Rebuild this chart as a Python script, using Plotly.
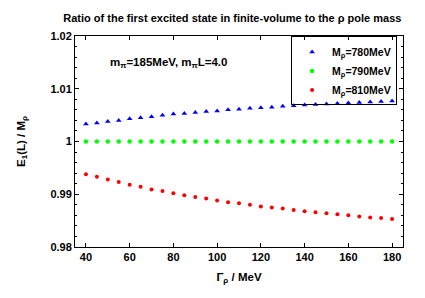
import plotly.graph_objects as go

gamma = [40, 45, 50, 55, 60, 65, 70, 75, 80, 85, 90, 95, 100, 105, 110, 115, 120,
         125, 130, 135, 140, 145, 150, 155, 160, 165, 170, 175, 180]
ratio_780 = [1.0033, 1.0035, 1.0038, 1.0040, 1.0043, 1.0045, 1.0047, 1.0050, 1.0052,
             1.0053, 1.0055, 1.0057, 1.0058, 1.0060, 1.0061, 1.0063, 1.0064, 1.0065,
             1.0067, 1.0068, 1.0069, 1.0070, 1.0071, 1.0072, 1.0073, 1.0074, 1.0075,
             1.0076, 1.0077]
ratio_790 = [1.0000] * 29
ratio_810 = [0.9938, 0.9933, 0.9928, 0.9923, 0.9918, 0.9914, 0.9909, 0.9906, 0.9902,
             0.9898, 0.9895, 0.9892, 0.9888, 0.9885, 0.9883, 0.9880, 0.9877, 0.9875,
             0.9873, 0.9870, 0.9868, 0.9866, 0.9864, 0.9862, 0.9860, 0.9858, 0.9856,
             0.9855, 0.9853]
series_names = ["M<sub>ρ</sub>=780MeV", "M<sub>ρ</sub>=790MeV", "M<sub>ρ</sub>=810MeV"]

FONT = "Liberation Sans"

fig = go.Figure()
fig.add_trace(go.Scatter(x=gamma, y=ratio_780, mode="markers", name=series_names[0],
                         marker=dict(symbol="triangle-up", size=5, color="#0000ff")))
fig.add_trace(go.Scatter(x=gamma, y=ratio_790, mode="markers", name=series_names[1],
                         marker=dict(symbol="circle", size=4.5, color="#00ff00")))
fig.add_trace(go.Scatter(x=gamma, y=ratio_810, mode="markers", name=series_names[2],
                         marker=dict(symbol="circle", size=4, color="#ff0000")))

axis_common = dict(showline=True, linecolor="black", linewidth=1, mirror="allticks",
                   ticks="inside", ticklen=4, tickcolor="black", showgrid=False,
                   zeroline=False, tickfont=dict(family=FONT, size=11, color="black", weight="bold"))

fig.update_layout(
    width=417, height=290,
    margin=dict(l=57, r=22, t=28, b=51),
    paper_bgcolor="white", plot_bgcolor="white",
    font=dict(family=FONT, color="black", weight="bold"),
    title=dict(text="Ratio of the first excited state in finite-volume to the ρ pole mass",
               x=0.538, xanchor="center", y=0.966, yanchor="middle",
               font=dict(family=FONT, size=11, color="black", weight="bold")),
    xaxis=dict(range=[35, 185], tickvals=[40, 60, 80, 100, 120, 140, 160, 180],
               title=dict(text="Γ<sub>ρ</sub> / MeV", standoff=10,
                          font=dict(family=FONT, size=11.5, weight="bold")),
               **axis_common),
    yaxis=dict(range=[0.98, 1.02], tickvals=[0.98, 0.99, 1.0, 1.01, 1.02],
               ticktext=["0.98", "0.99", "1", "1.01", "1.02"],
               minor=dict(dtick=0.002, ticks="inside", ticklen=2, tickcolor="black"),
               title=dict(text="E<sub>1</sub>(L) / M<sub>ρ</sub>", standoff=22,
                          font=dict(family=FONT, size=11.5, weight="bold")),
               **axis_common),
    legend=dict(x=0.982, xanchor="right", y=0.998, yanchor="top",
                bordercolor="black", borderwidth=1, bgcolor="rgba(255,255,255,0)",
                font=dict(family=FONT, size=10.5, color="black", weight="bold"),
                tracegroupgap=0, itemsizing="trace", itemwidth=30),
    annotations=[dict(text="m<sub>π</sub>=185MeV, m<sub>π</sub>L=4.0", xref="paper", yref="paper",
                      x=0.1, y=0.872, xanchor="left", yanchor="middle", showarrow=False,
                      font=dict(family=FONT, size=11.5, color="black", weight="bold"))],
)

fig.write_html("out.html")
